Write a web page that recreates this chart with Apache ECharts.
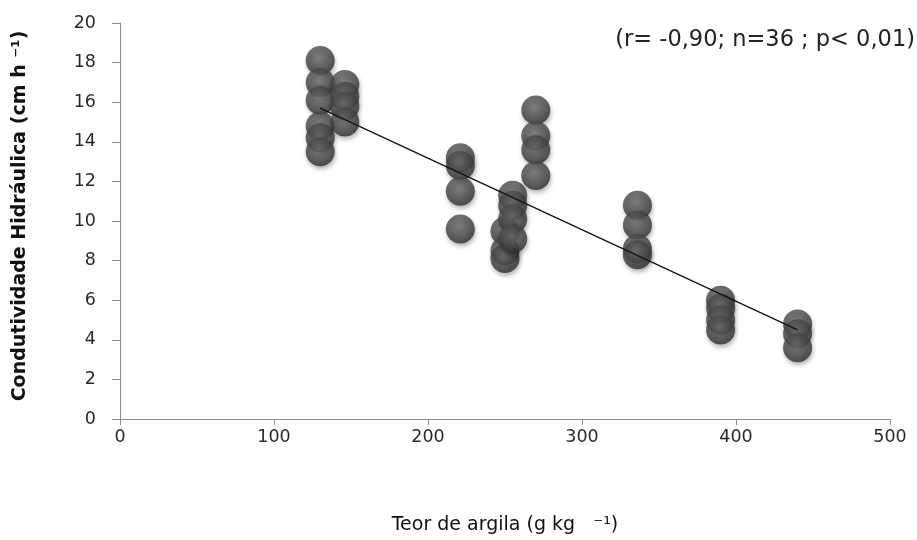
<!DOCTYPE html>
<html><head><meta charset="utf-8">
<script src="https://cdn.jsdelivr.net/npm/echarts@6/dist/echarts.min.js"></script>
<style>html,body{margin:0;padding:0;background:#fff}#c{width:917px;height:540px}</style>
</head><body><div id="c"></div>
<script>
// x = clay content (g/kg), y = hydraulic conductivity (cm/h)
const clayX = [130,130,130,130,130,130, 146,146,146,146, 221,221,221,221, 250,250,250, 255,255,255,255, 270,270,270,270, 336,336,336,336, 390,390,390,390, 440,440,440];
const condY = [18.1,17.0,16.1,14.8,14.2,13.5, 16.9,16.3,15.8,15.0, 13.2,12.8,11.5,9.6, 9.5,8.5,8.1, 11.3,10.8,10.1,9.1, 15.6,14.3,13.6,12.3, 10.8,9.8,8.6,8.3, 6.0,5.6,5.0,4.5, 4.8,4.3,3.6];
const trendX = [130, 440];
const trendY = [15.7, 4.5];
const yTicks = [0,2,4,6,8,10,12,14,16,18,20];
const xTicks = [0,100,200,300,400,500];
const annotation = '(r= -0,90; n=36 ; p< 0,01)';
const xName = 'Teor de argila (g kg   \u207B\u00B9)';
const yName = 'Condutividade Hidráulica (cm h \u207B\u00B9)';

const pts = clayX.map((x,i)=>[x, condY[i]]);
const line = trendX.map((x,i)=>[x, trendY[i]]);
const chart = echarts.init(document.getElementById('c'));
const font = 'DejaVu Sans, Verdana, sans-serif';
chart.setOption({
  animation:false,
  grid:{left:120, right:27, top:23, bottom:119},
  xAxis:{type:'value', min:xTicks[0], max:xTicks[xTicks.length-1], interval:100,
    name:xName, nameLocation:'middle', nameGap:97,
    nameTextStyle:{fontFamily:font, fontSize:19, color:'#111'},
    axisLine:{show:true, onZero:false, lineStyle:{color:'#8c8c8c'}},
    axisTick:{show:true, length:6, lineStyle:{color:'#8c8c8c'}},
    axisLabel:{fontFamily:font, fontSize:17.5, color:'#2a2a2a', margin:9},
    splitLine:{show:false}},
  yAxis:{type:'value', min:yTicks[0], max:yTicks[yTicks.length-1], interval:2,
    name:yName, nameLocation:'middle', nameGap:90, nameRotate:90,
    nameTextStyle:{fontFamily:font, fontSize:19, fontWeight:'bold', color:'#111', padding:[0,0,0,10]},
    axisLine:{show:true, lineStyle:{color:'#8c8c8c'}},
    axisTick:{show:true, length:8, lineStyle:{color:'#8c8c8c'}},
    axisLabel:{fontFamily:font, fontSize:17.5, color:'#2a2a2a', margin:24},
    splitLine:{show:false}},
  graphic:[{type:'text', right:2, top:29, style:{text:annotation, fontFamily:font, fontSize:22.5, fill:'#222'}}],
  series:[
    {type:'scatter', data:pts, symbolSize:29, z:2,
      itemStyle:{color:{type:'radial', x:0.45, y:0.4, r:0.6, colorStops:[{offset:0,color:'#6e6e6e'},{offset:0.6,color:'#4a4a4a'},{offset:1,color:'#2e2e2e'}]},
        shadowBlur:4, shadowOffsetX:1, shadowOffsetY:3, shadowColor:'rgba(0,0,0,0.35)'}},
    {type:'line', data:line, symbol:'none', z:5, lineStyle:{color:'#111', width:1.3}}
  ]
});
</script></body></html>
